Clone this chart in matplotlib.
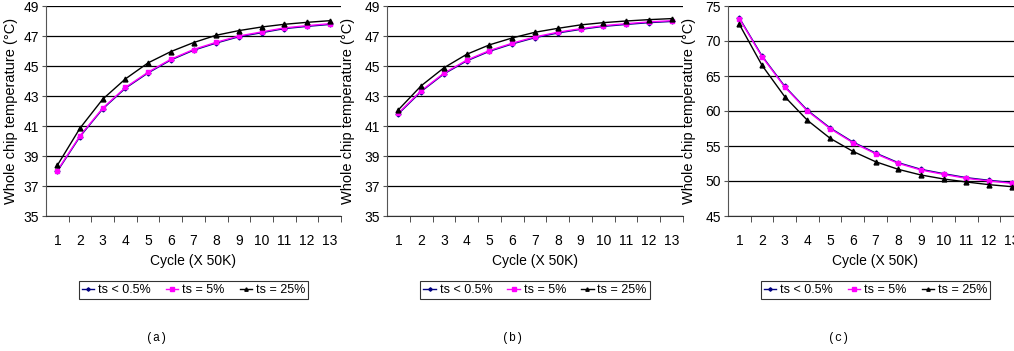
import numpy as np
import matplotlib
matplotlib.use("Agg")
import matplotlib.pyplot as plt

plt.rcParams['font.family'] = ['Liberation Sans Narrow', 'Liberation Sans', 'DejaVu Sans']

cycles = np.arange(1, 14)
labels = ["ts < 0.5%", "ts = 5%", "ts = 25%"]

# panel (a)
a_low = [37.98, 40.30, 42.14, 43.52, 44.54, 45.40, 46.05, 46.53, 46.95, 47.22, 47.49, 47.64, 47.77]
a_5 = [38.03, 40.35, 42.19, 43.57, 44.59, 45.45, 46.10, 46.58, 47.00, 47.27, 47.54, 47.69, 47.82]
a_25 = [38.38, 40.86, 42.79, 44.14, 45.21, 45.96, 46.56, 47.05, 47.36, 47.60, 47.78, 47.91, 48.02]

# panel (b)
b_low = [41.81, 43.30, 44.47, 45.34, 45.98, 46.47, 46.89, 47.20, 47.44, 47.64, 47.77, 47.89, 47.97]
b_5 = [41.86, 43.35, 44.52, 45.39, 46.03, 46.52, 46.94, 47.25, 47.49, 47.69, 47.82, 47.94, 48.02]
b_25 = [42.08, 43.68, 44.88, 45.78, 46.41, 46.87, 47.25, 47.51, 47.74, 47.89, 48.00, 48.09, 48.16]

# panel (c)
c_low = [73.29, 67.86, 63.53, 60.10, 57.58, 55.58, 54.00, 52.62, 51.67, 51.05, 50.48, 50.10, 49.77]
c_5 = [73.19, 67.76, 63.43, 60.00, 57.48, 55.48, 53.90, 52.52, 51.57, 50.95, 50.38, 50.00, 49.67]
c_25 = [72.38, 66.52, 62.05, 58.67, 56.10, 54.24, 52.76, 51.67, 50.86, 50.29, 49.86, 49.48, 49.19]

panels = [
    ("(a)", [a_low, a_5, a_25], (35, 49), np.arange(35, 50, 2)),
    ("(b)", [b_low, b_5, b_25], (35, 49), np.arange(35, 50, 2)),
    ("(c)", [c_low, c_5, c_25], (45, 75), np.arange(45, 76, 5)),
]

W, H = 1014, 351
fig = plt.figure(figsize=(W / 100, H / 100), dpi=100)

# axes boxes in pixels: left, right, ylabel x, caption x
boxes = [(46, 341, 18, 157), (387, 683, 355, 512), (728, 1023, 696, 839)]
top, bottom = 6, 216

colors = ['#000080', '#FF00FF', 'black']
markers = ['D', 's', '^']
msizes = [2.5, 3.5, 3.5]

for (cap, series, ylim, yt), (l, r, ylx, capx) in zip(panels, boxes):
    ax = fig.add_axes([l / W, (H - bottom) / H, (r - l) / W, (bottom - top) / H])
    for ys, c, m, ms, lab in zip(series, colors, markers, msizes, labels):
        ax.plot(cycles, ys, color=c, marker=m, markersize=ms, linewidth=1.0, label=lab)
    ax.set_xlim(0.5, 13.5)
    ax.set_ylim(*ylim)
    ax.set_yticks(yt)
    ax.set_xticks(cycles)
    ax.set_xticks(np.arange(1.5, 13.6, 1), minor=True)
    ax.tick_params(axis='x', which='major', length=0, pad=13, labelsize=10)
    ax.tick_params(axis='x', which='minor', length=4, direction='out', color='#333333')
    ax.tick_params(axis='y', length=3, direction='out', pad=2, labelsize=10, color='#555555')
    ax.grid(axis='y', color='black', linewidth=0.9)
    ax.set_axisbelow(True)
    for s in ['top', 'right']:
        ax.spines[s].set_visible(False)
    ax.spines['left'].set_color('#555555')
    ax.spines['bottom'].set_color('#333333')
    ax.set_ylabel("Whole chip temperature (°C)", fontsize=10.5, family=['Liberation Sans', 'DejaVu Sans'])
    ax.yaxis.set_label_coords((ylx - l) / (r - l), 0.5)
    ax.set_xlabel("Cycle (X 50K)", fontsize=10)
    ax.xaxis.set_label_coords(0.5, (bottom - 254) / (bottom - top))
    leg = ax.legend(loc='center', bbox_to_anchor=(0.5, (bottom - 290) / (bottom - top)),
                    ncol=3, fontsize=9, frameon=True, fancybox=False,
                    handlelength=1.0, handletextpad=0.3, columnspacing=1.2,
                    borderpad=0.25, markerscale=0.7)
    leg.get_frame().set_edgecolor('black')
    leg.get_frame().set_linewidth(0.8)
    fig.text(capx / W, (H - 338) / H, cap, ha='center', va='center',
             fontsize=8.5, family=['Liberation Mono', 'DejaVu Sans Mono'])

fig.savefig("out.png", dpi=100)
